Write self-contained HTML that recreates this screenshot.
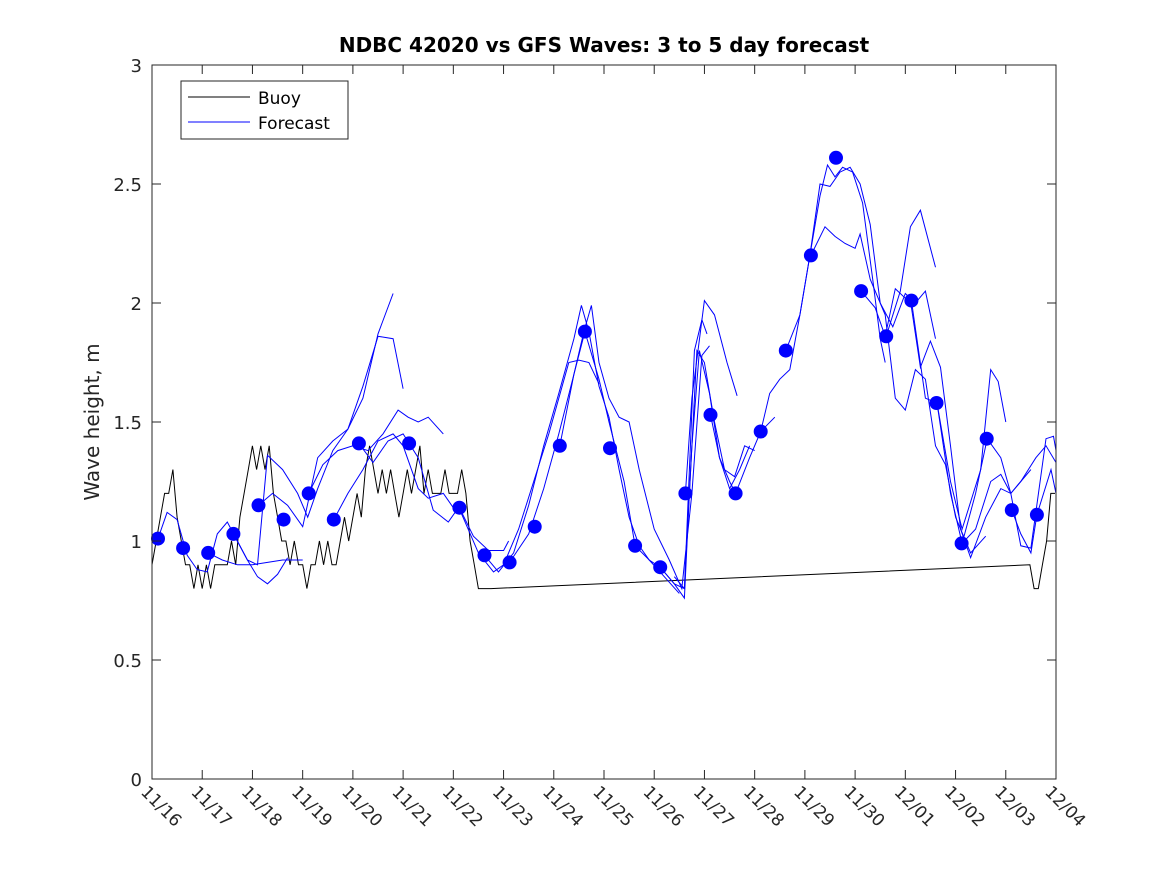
<!DOCTYPE html>
<html><head><meta charset="utf-8"><style>
body{margin:0;background:#fff;}
svg text{font-family:"DejaVu Sans","Liberation Sans",sans-serif;fill:#262626;}
</style></head><body>
<svg id="chart" width="1167" height="875" xmlns="http://www.w3.org/2000/svg">
<rect x="0" y="0" width="1167" height="875" fill="#fff"/>
<rect x="152" y="65" width="904" height="714" fill="#fff"/>
<g id="series"></g>
<rect x="152" y="65" width="904" height="714" fill="none" stroke="#262626" stroke-width="1"/>
<g id="axes"></g>
<text x="604" y="52" text-anchor="middle" font-size="20" font-weight="bold" style="fill:#000">NDBC 42020 vs GFS Waves: 3 to 5 day forecast</text>
<text transform="translate(99,422) rotate(-90)" text-anchor="middle" font-size="20">Wave height, m</text>
<g>
<rect x="181" y="81" width="167" height="58" fill="#fff" stroke="#262626" stroke-width="1"/>
<line x1="188" y1="97" x2="250" y2="97" stroke="#000" stroke-width="1"/>
<text x="258" y="104" font-size="17" style="fill:#000">Buoy</text>
<line x1="188" y1="122" x2="250" y2="122" stroke="#0000ff" stroke-width="1"/>
<text x="258" y="129" font-size="17" style="fill:#000">Forecast</text>
</g>
</svg>
<script>
const xTickLabels=["11/16","11/17","11/18","11/19","11/20","11/21","11/22","11/23","11/24","11/25","11/26","11/27","11/28","11/29","11/30","12/01","12/02","12/03","12/04"];
const yTicks=[0,0.5,1,1.5,2,2.5,3];
const yTickLabels=["0","0.5","1","1.5","2","2.5","3"];
const dotStart=0.12, dotStep=0.5;
const dotValues=[1.01,0.97,0.95,1.03,1.15,1.09,1.20,1.09,1.41,null,1.41,null,1.14,0.94,0.91,1.06,1.40,1.88,1.39,0.98,0.89,1.20,1.53,1.20,1.46,1.80,2.20,2.61,2.05,1.86,2.01,1.58,0.99,1.43,1.13,1.11];
const buoyStep=1/12;
const buoyValues1=[0.9,1.0,1.1,1.2,1.2,1.3,1.1,1.0,0.9,0.9,0.8,0.9,0.8,0.9,0.8,0.9,0.9,0.9,0.9,1.0,0.9,1.1,1.2,1.3,1.4,1.3,1.4,1.3,1.4,1.2,1.1,1.0,1.0,0.9,1.0,0.9,0.9,0.8,0.9,0.9,1.0,0.9,1.0,0.9,0.9,1.0,1.1,1.0,1.1,1.2,1.1,1.3,1.4,1.3,1.2,1.3,1.2,1.3,1.2,1.1,1.2,1.3,1.2,1.3,1.4,1.2,1.3,1.2,1.2,1.2,1.3,1.2,1.2,1.2,1.3,1.2,1.0,0.9,0.8,0.8,0.8,0.8];
const buoyStart2=17.48;
const buoyValues2=[0.9,0.8,0.8,0.9,1.0,1.2,1.2];
const fcTimes=[
[0.12,0.3,0.5,0.7,0.9,1.1,1.3,1.5,1.7,1.9,2.1,2.3,2.5,2.7],
[1.12,1.4,1.7,2.0,2.3,2.6,2.9,3.0],
[1.62,1.9,2.1,2.3,2.6,2.9,3.1,3.3,3.6,3.9,4.2,4.5,4.8],
[2.12,2.4,2.7,3.0,3.3,3.6,3.9,4.2,4.5,4.8,5.0],
[3.12,3.4,3.7,4.0,4.3,4.6,4.9,5.1,5.3,5.5,5.8],
[3.62,3.9,4.2,4.5,4.8,5.0,5.3,5.5,5.8,6.0],
[4.12,4.4,4.7,5.0,5.3,5.6,5.9,6.1],
[6.11,6.5,6.8,7.0,7.3,7.6,7.9,8.1,8.3,8.5,8.7,8.9],
[6.12,6.4,6.7,7.0,7.1],
[6.62,6.9,7.2,7.5,7.8,8.1,8.4,8.55,8.7,8.9,9.1,9.3,9.5,9.7,9.9,10.2,10.5],
[7.12,7.5,7.8,8.1,8.4,8.6,8.75,8.9,9.1,9.3,9.5,9.7,10.0,10.3,10.55,10.75,10.95,11.1],
[8.12,8.4,8.62,8.9,9.1,9.4,9.62,9.9,10.12,10.4,10.6,10.75,10.9,11.1,11.3,11.5,11.7,11.9],
[10.12,10.4,10.6,10.7,10.85,11.0,11.2,11.4,11.6,11.8,12.0],
[10.4,10.6,10.8,10.95,11.05],
[10.62,10.75,11.0,11.2,11.45,11.65],
[11.12,11.3,11.5,11.62,11.9,12.12,12.4],
[12.12,12.3,12.5,12.7,12.9,13.1,13.3,13.45,13.6,13.75,13.95,14.15,14.35,14.5,14.6],
[12.62,12.9,13.1,13.3,13.5,13.7,13.9,14.1,14.3,14.5,14.75,15.0,15.2,15.4,15.6],
[13.12,13.4,13.6,13.8,14.0,14.1,14.3,14.6,14.8,15.0,15.2,15.4,15.6,15.8,16.0,16.3,16.6],
[14.62,14.9,15.1,15.3,15.6],
[14.12,14.4,14.6,14.8,15.0,15.1,15.3,15.5,15.7,15.9,16.1,16.3,16.6,16.9,17.1,17.3,17.5],
[15.12,15.4,15.63,15.9,16.13,16.4,16.7,16.9,17.1,17.3,17.6,17.8,18.0],
[15.63,15.9,16.13,16.5,16.7,16.85,17.0],
[16.13,16.4,16.63,16.9,17.1,17.3,17.5,17.8,17.95,18.0],
[17.12,17.3,17.5,17.62,17.9,18.0]
];
const fcValues=[
[1.01,1.12,1.09,0.94,0.88,0.87,1.03,1.08,1.0,0.92,0.85,0.82,0.86,0.93],
[0.95,0.92,0.90,0.90,0.91,0.92,0.92,0.92],
[1.03,0.92,0.90,1.36,1.3,1.2,1.1,1.22,1.38,1.47,1.6,1.87,2.04],
[1.15,1.2,1.15,1.06,1.35,1.42,1.47,1.65,1.86,1.85,1.64],
[1.20,1.32,1.38,1.40,1.38,1.45,1.55,1.52,1.50,1.52,1.45],
[1.09,1.2,1.3,1.42,1.45,1.40,1.22,1.18,1.2,1.14],
[1.41,1.33,1.42,1.45,1.35,1.13,1.08,1.14],
[1.14,0.95,0.87,0.90,1.05,1.25,1.45,1.6,1.75,1.76,1.75,1.66],
[1.14,1.02,0.96,0.96,1.0],
[0.94,0.87,0.95,1.15,1.4,1.62,1.85,1.99,1.88,1.65,1.52,1.3,1.1,0.98,0.92,0.85,0.78],
[0.91,1.03,1.22,1.45,1.7,1.88,1.99,1.75,1.6,1.52,1.5,1.3,1.05,0.92,0.8,1.2,1.78,1.82],
[1.40,1.7,1.88,1.68,1.5,1.25,0.98,0.92,0.89,0.82,0.8,1.4,1.8,1.62,1.35,1.22,1.3,1.4],
[0.89,0.82,0.76,1.2,1.8,1.75,1.5,1.3,1.27,1.4,1.38],
[0.85,0.8,1.8,1.93,1.87],
[1.2,1.6,2.01,1.95,1.75,1.61],
[1.53,1.35,1.25,1.2,1.35,1.46,1.52],
[1.46,1.62,1.68,1.72,1.95,2.2,2.45,2.58,2.53,2.57,2.55,2.42,2.1,1.85,1.75],
[1.8,1.95,2.2,2.5,2.49,2.55,2.57,2.5,2.33,2.0,1.9,2.04,2.0,2.05,1.85],
[2.2,2.32,2.28,2.25,2.23,2.29,2.1,1.95,1.6,1.55,1.72,1.68,1.4,1.32,1.1,0.95,1.02],
[1.86,2.05,2.32,2.39,2.15],
[2.05,1.98,1.86,2.06,2.02,2.01,1.73,1.84,1.73,1.4,1.05,0.93,1.1,1.22,1.2,1.25,1.3],
[2.01,1.6,1.58,1.2,0.99,1.05,1.25,1.28,1.2,1.25,1.35,1.40,1.33],
[1.58,1.25,1.05,1.3,1.72,1.67,1.5],
[0.99,1.2,1.43,1.35,1.2,0.98,0.97,1.43,1.44,1.38],
[1.13,1.03,0.95,1.11,1.3,1.2]
];

const NS="http://www.w3.org/2000/svg";
const X0=152,X1=1056,Y0=779,Y1=65,TMAX=18,VMAX=3;
function xs(t){return X0+(X1-X0)*t/TMAX;}
function ys(v){return Y0-(Y0-Y1)*v/VMAX;}
const series=document.getElementById('series');
const axes=document.getElementById('axes');
function mk(tag,attrs,parent){const e=document.createElementNS(NS,tag);for(const k in attrs)e.setAttribute(k,attrs[k]);parent.appendChild(e);return e;}

let bp=[];
buoyValues1.forEach((v,i)=>bp.push(xs(i*buoyStep).toFixed(1)+','+ys(v).toFixed(1)));
buoyValues2.forEach((v,i)=>bp.push(xs(buoyStart2+i*buoyStep).toFixed(1)+','+ys(v).toFixed(1)));
const bl=mk('polyline',{points:bp.join(' '),fill:'none',stroke:'#000','stroke-width':1},series);



fcTimes.forEach((ts,k)=>{
  const pts=ts.map((t,i)=>xs(t).toFixed(1)+','+ys(fcValues[k][i]).toFixed(1)).join(' ');
  const pl=mk('polyline',{points:pts,fill:'none',stroke:'#0000ff','stroke-width':1},series);
  
  
});

dotValues.forEach((v,i)=>{
  if(v===null)return;
  const c=mk('circle',{cx:xs(dotStart+i*dotStep).toFixed(1),cy:ys(v).toFixed(1),r:7,fill:'#0000ff'},series);
  
  
});

xTickLabels.forEach((lab,i)=>{
  const x=xs(i);
  const t1=mk('line',{x1:x,y1:Y0,x2:x,y2:Y0-9,stroke:'#262626','stroke-width':1},axes);
  
  
  const t2=mk('line',{x1:x,y1:Y1,x2:x,y2:Y1+9,stroke:'#262626','stroke-width':1},axes);
  
  
  const tx=mk('text',{transform:'translate('+(x-12)+','+(Y0+14)+') rotate(45)','font-size':17},axes);
  tx.textContent=lab;
  
  
});
yTicks.forEach((v,i)=>{
  const y=ys(v);
  const t1=mk('line',{x1:X0,y1:y,x2:X0+9,y2:y,stroke:'#262626','stroke-width':1},axes);
  
  
  const t2=mk('line',{x1:X1,y1:y,x2:X1-9,y2:y,stroke:'#262626','stroke-width':1},axes);
  
  
  const tx=mk('text',{x:X0-10,y:y+7,'text-anchor':'end','font-size':18},axes);
  tx.textContent=yTickLabels[i];
  
  
});
</script>
</body></html>
